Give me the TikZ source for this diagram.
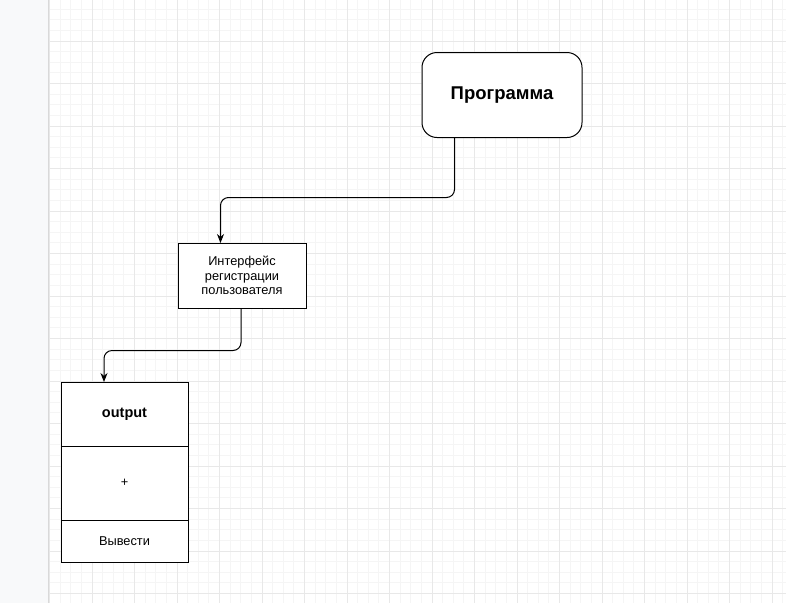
\documentclass[tikz,border=0pt]{standalone}
\usepackage{fontspec}
\setmainfont{Liberation Sans}
\usetikzlibrary{arrows.meta}
\definecolor{panelgray}{HTML}{F8F9FA}
\definecolor{gridminor}{HTML}{F5F5F5}
\definecolor{gridmajor}{HTML}{E8E8E8}
\begin{document}
\begin{tikzpicture}[x=1pt,y=-1pt,
  box/.style={draw, line width=1pt, fill=white, inner sep=0pt, outer sep=0pt, align=center,
    font=\fontsize{12.8}{14.3}\selectfont},
  link/.style={-{Stealth[length=9pt,width=7pt]}, line width=1pt, rounded corners=8pt}]
\useasboundingbox (0,0) rectangle (786,603);
\fill[white] (0,0) rectangle (786,603);
% grid
\foreach \xx in {0,...,69} {\draw[gridminor, line width=0.8pt] ({49.5+10.625*\xx},0) -- ({49.5+10.625*\xx},603);}
\foreach \yy in {1,...,57} {\draw[gridminor, line width=0.8pt] (49,{-1.5+10.625*\yy}) -- (786,{-1.5+10.625*\yy});}
\foreach \xx in {0,...,17} {\draw[gridmajor, line width=0.8pt] ({49.5+42.5*\xx},0) -- ({49.5+42.5*\xx},603);}
\foreach \yy in {1,...,14} {\draw[gridmajor, line width=0.8pt] (49,{-1.5+42.5*\yy}) -- (786,{-1.5+42.5*\yy});}
% left panel
\fill[panelgray] (0,0) rectangle (48,603);
\draw[black!15, line width=1pt] (48.5,0) -- (48.5,603);
% shapes
\node[box, rounded corners=15pt, minimum width=160pt, minimum height=85pt,
  font=\bfseries\fontsize{18.5}{20}\selectfont] (prog) at (502,95) {Программа};
\node[box, minimum width=128pt, minimum height=65pt] (reg) at (242,275.5)
  {Интерфейс\\регистрации\\пользователя};
\node[box, minimum width=127pt, minimum height=64pt,
  font=\bfseries\fontsize{14.5}{16}\selectfont] (out) at (124.5,414) {output};
\node[box, minimum width=127pt, minimum height=74pt, anchor=north] (outbody) at (out.south) {+};
\node[box, minimum width=127pt, minimum height=42pt, anchor=north] (outfoot) at (outbody.south) {Вывести};
% connectors
\coordinate (progout) at ([xshift=32.5pt]prog.south west);
\draw[link] (progout) -- ++(0,60) -| ([xshift=-21.5pt]reg.north);
\draw[link] ([xshift=-1pt]reg.south) -- ++(0,42.5) -| ([xshift=-20.5pt]out.north);
\end{tikzpicture}
\end{document}
